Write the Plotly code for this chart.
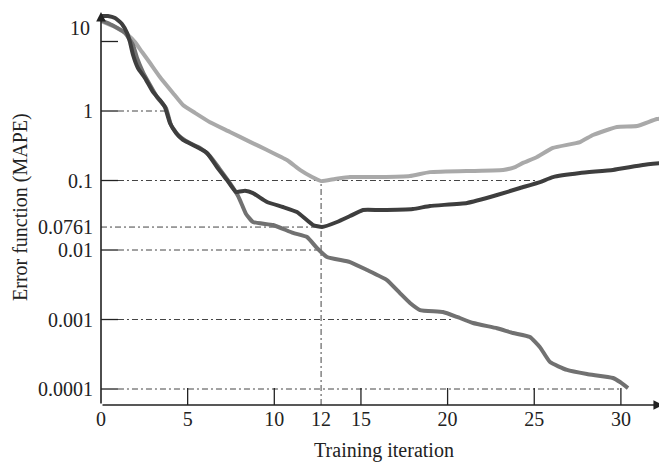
import plotly.graph_objects as go

# ---- data (x = training iteration, y = MAPE on the figure's log scale)
light_x = [0, 0.81, 1.56, 1.96, 2.37, 2.83, 3.40, 4.15, 4.73, 5.42, 6.29, 7.44, 8.60, 9.58,
           10.73, 11.48, 12.18, 12.70, 13.5, 14.37, 16.10, 17.83, 18.98, 23.2, 23.89, 24.35,
           25.16, 26.08, 27.64, 28.39, 29.77, 30.93, 32.08, 32.66]
light_y = [19.7, 16.2, 12.4, 9.8, 7.06, 4.9, 3.09, 1.82, 1.22, 0.94, 0.69, 0.50, 0.36, 0.275,
           0.197, 0.142, 0.112, 0.098, 0.105, 0.112, 0.112, 0.116, 0.132, 0.142, 0.156, 0.179,
           0.218, 0.294, 0.358, 0.452, 0.589, 0.608, 0.767, 0.793]

dark_x = [0, 0.40, 0.81, 1.21, 1.50, 1.67, 1.85, 2.13, 2.54, 3.00, 3.40, 3.69, 3.98, 4.33,
          4.73, 5.42, 6.12, 6.69, 7.27, 7.79, 8.31, 8.77, 9.58, 10.50, 11.31, 12.23, 12.75,
          13.62, 14.37, 15.12, 16.10, 18.0, 18.98, 21.12, 22.85, 24.18, 25.33, 26.08, 27.64,
          29.54, 31.27, 32.43]
dark_y = [23.3, 23.3, 21.8, 17.9, 13.3, 9.84, 6.40, 4.16, 2.98, 1.88, 1.44, 1.14, 0.672, 0.482,
          0.383, 0.313, 0.249, 0.156, 0.1016, 0.0684, 0.071, 0.0660, 0.0491, 0.0416, 0.0352,
          0.0229, 0.0214, 0.0253, 0.0308, 0.0376, 0.0376, 0.0389, 0.0430, 0.0475, 0.0618,
          0.078, 0.095, 0.112, 0.128, 0.142, 0.167, 0.179]

low_x = [0, 0.63, 1.38, 1.85, 2.08, 2.42, 2.83, 3.23, 3.75, 4.04, 4.44, 4.90, 5.71, 6.29,
         6.81, 7.44, 7.91, 8.14, 8.37, 8.77, 9.93, 11.08, 11.89, 12.46, 13.04, 14.37, 15.35,
         16.50, 17.25, 17.83, 18.41, 19.73, 20.54, 21.47, 22.85, 23.77, 24.75, 25.33, 25.91,
         26.89, 28.04, 29.54, 29.95, 30.41]
low_y = [20.4, 17.3, 13.3, 8.9, 5.79, 3.64, 2.37, 1.59, 1.10, 0.629, 0.452, 0.370, 0.294,
         0.225, 0.151, 0.092, 0.0598, 0.0444, 0.033, 0.0253, 0.0229, 0.0176, 0.0154, 0.0107,
         0.00793, 0.00671, 0.00515, 0.00370, 0.00240, 0.00173, 0.00137, 0.00128, 0.00109,
         0.00089, 0.00075, 0.00064, 0.00056, 0.00040, 0.000244, 0.000188, 0.000164, 0.000144,
         0.000126, 0.000103]

# tick labels
x_tick_vals = [0, 5, 10, 12.7, 15, 20, 25, 30]
x_tick_text = ["0", "5", "10", "12", "15", "20", "25", "30"]
y_tick_vals = [1, 0.1, 0.0214, 0.01, 0.001, 0.0001]
y_tick_text = ["1", "0.1", "0.0761", "0.01", "0.001", "0.0001"]
y_top_label = "10"

# solid tick marks
x_major = [5, 10, 15, 20, 25, 30]
y_major = [10, 1, 0.1, 0.01, 0.001, 0.0001]

# dash-dot guide lines: level, start x, end x (end where a curve meets the level)
guide_level = [1, 0.1, 0.0214, 0.01, 0.001, 0.0001]
guide_x0 = [0.98, 0.98, 0, 0.98, 0.98, 0.98]
guide_x1 = [3.87, 25.16, 12.7, 12.46, 20.25, 30.0]
opt_x, opt_y = 12.7, 0.1  # vertical guide

X_MAX = 32.66
Y_LOG = [-4.23, 1.4245]
FONT = "Liberation Serif"
FS = 20
INK = "#222222"

fig = go.Figure()
for xs, ys, col in [(light_x, light_y, "#a9a9a9"), (low_x, low_y, "#717171"), (dark_x, dark_y, "#3e3e3e")]:
    fig.add_trace(go.Scatter(x=xs, y=ys, mode="lines",
                             line=dict(color=col, width=4, shape="spline", smoothing=0.4),
                             showlegend=False, hoverinfo="skip", cliponaxis=False))

shapes = []
guide = dict(color="#444444", width=1, dash="6px,3px,2px,3px")
for lv, a, b in zip(guide_level, guide_x0, guide_x1):
    shapes.append(dict(type="line", xref="x", yref="y", x0=a, x1=b, y0=lv, y1=lv,
                       line=guide, layer="below"))
shapes.append(dict(type="line", xref="x", yref="y", x0=opt_x, x1=opt_x,
                   y0=10 ** Y_LOG[0], y1=opt_y, line=guide, layer="below"))
tick = dict(color=INK, width=1.3)
for v in x_major:
    shapes.append(dict(type="line", xref="x", yref="paper", x0=v, x1=v, y0=0, y1=17 / 393, line=tick))
for v in y_major:
    shapes.append(dict(type="line", xref="x", yref="y", x0=0, x1=0.98, y0=v, y1=v, line=tick))

annotations = [
    # axes with arrowheads
    dict(xref="x", yref="paper", x=0, y=1.0, ax=0, ay=393, text="", showarrow=True,
         arrowhead=2, arrowsize=1.2, arrowwidth=1.6, arrowcolor=INK, standoff=0),
    dict(xref="x", yref="paper", x=32.43, y=0, ax=-562, ay=0, text="", showarrow=True,
         arrowhead=2, arrowsize=1.2, arrowwidth=1.6, arrowcolor=INK, standoff=0),
    dict(xref="paper", yref="paper", x=0, y=(405 - 28) / 393, xanchor="right", yanchor="middle",
         xshift=-9, text=y_top_label, showarrow=False, font=dict(family=FONT, size=FS, color=INK)),
    dict(xref="paper", yref="paper", x=0, y=(405 - 207) / 393, xanchor="center", yanchor="middle",
         xshift=-81, text="Error function (MAPE)", textangle=-90, showarrow=False,
         font=dict(family=FONT, size=FS, color=INK)),
]

# the page body has an 8px margin, so the figure is sized/offset to compensate
fig.update_layout(
    width=659, height=454,
    margin=dict(l=93, r=0, t=4, b=57),
    paper_bgcolor="white", plot_bgcolor="rgba(0,0,0,0)",
    font=dict(family=FONT, size=FS, color=INK),
    shapes=shapes, annotations=annotations,
    xaxis=dict(range=[0, X_MAX], tickvals=x_tick_vals, ticktext=x_tick_text, automargin=False,
               showgrid=False, zeroline=False, showline=False, ticks="",
               title=dict(text="Training iteration", standoff=13, font=dict(size=FS))),
    yaxis=dict(type="log", range=Y_LOG, tickvals=y_tick_vals, ticktext=y_tick_text, automargin=False,
               showgrid=False, zeroline=False, showline=False, ticks="", ticklabelstandoff=7),
)

fig.write_html("out.html")
